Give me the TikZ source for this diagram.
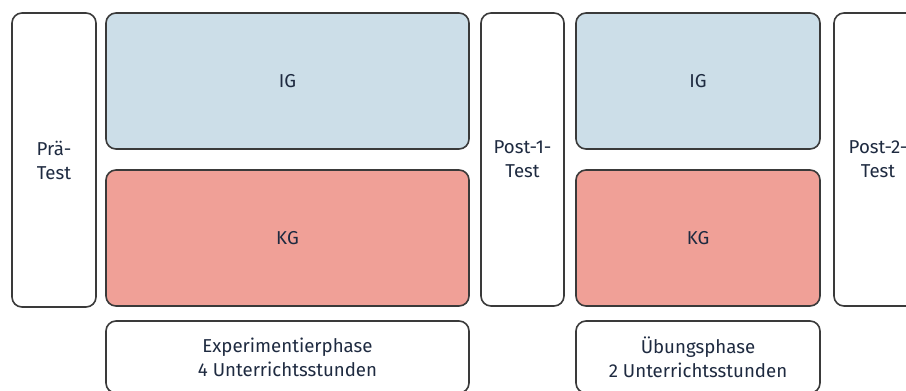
\documentclass[tikz,border=0pt]{standalone}
\usepackage{fontspec}
\setmainfont{Fira Sans}
\definecolor{igblue}{HTML}{CCDEE8}
\definecolor{kgred}{HTML}{F0A097}
\definecolor{edge}{HTML}{3A3A3A}
\definecolor{txt}{HTML}{1E2A40}
\begin{document}
\begin{tikzpicture}[x=0.75pt,y=-0.75pt,
  box/.style={draw=edge,line width=1.2pt,rounded corners=7.5pt,text=txt,
    font=\fontsize{14}{18}\selectfont,align=center,inner sep=0pt,outer sep=0pt,
    anchor=north west,minimum width=#1},
  box/.default=0pt]
\useasboundingbox (0,0) rectangle (906,390);
\clip (0,0) rectangle (906,390);
\node[box=63pt,minimum height=220.5pt] (pre) at (12,13) {Prä-\\Test};
\node[box=272.25pt,minimum height=102pt,fill=igblue] (ig1) at (106,13) {IG};
\node[box=272.25pt,minimum height=102pt,fill=kgred] (kg1) at (106,170) {KG};
\node[box=62.25pt,minimum height=219.75pt] (post1) at (481,13) {Post-1-\\Test};
\node[box=183pt,minimum height=102pt,fill=igblue] (ig2) at (576,13) {IG};
\node[box=183pt,minimum height=102pt,fill=kgred] (kg2) at (576,170) {KG};
\node[box=66pt,minimum height=219.75pt] (post2) at (834,13) {Post-2-\\Test};
\node[box=272.25pt,minimum height=54pt] (exp) at (106,321) {Experimentierphase\\4 Unterrichtsstunden};
\node[box=183pt,minimum height=54pt] (ueb) at (576,321) {Übungsphase\\2 Unterrichtsstunden};
\end{tikzpicture}
\end{document}
